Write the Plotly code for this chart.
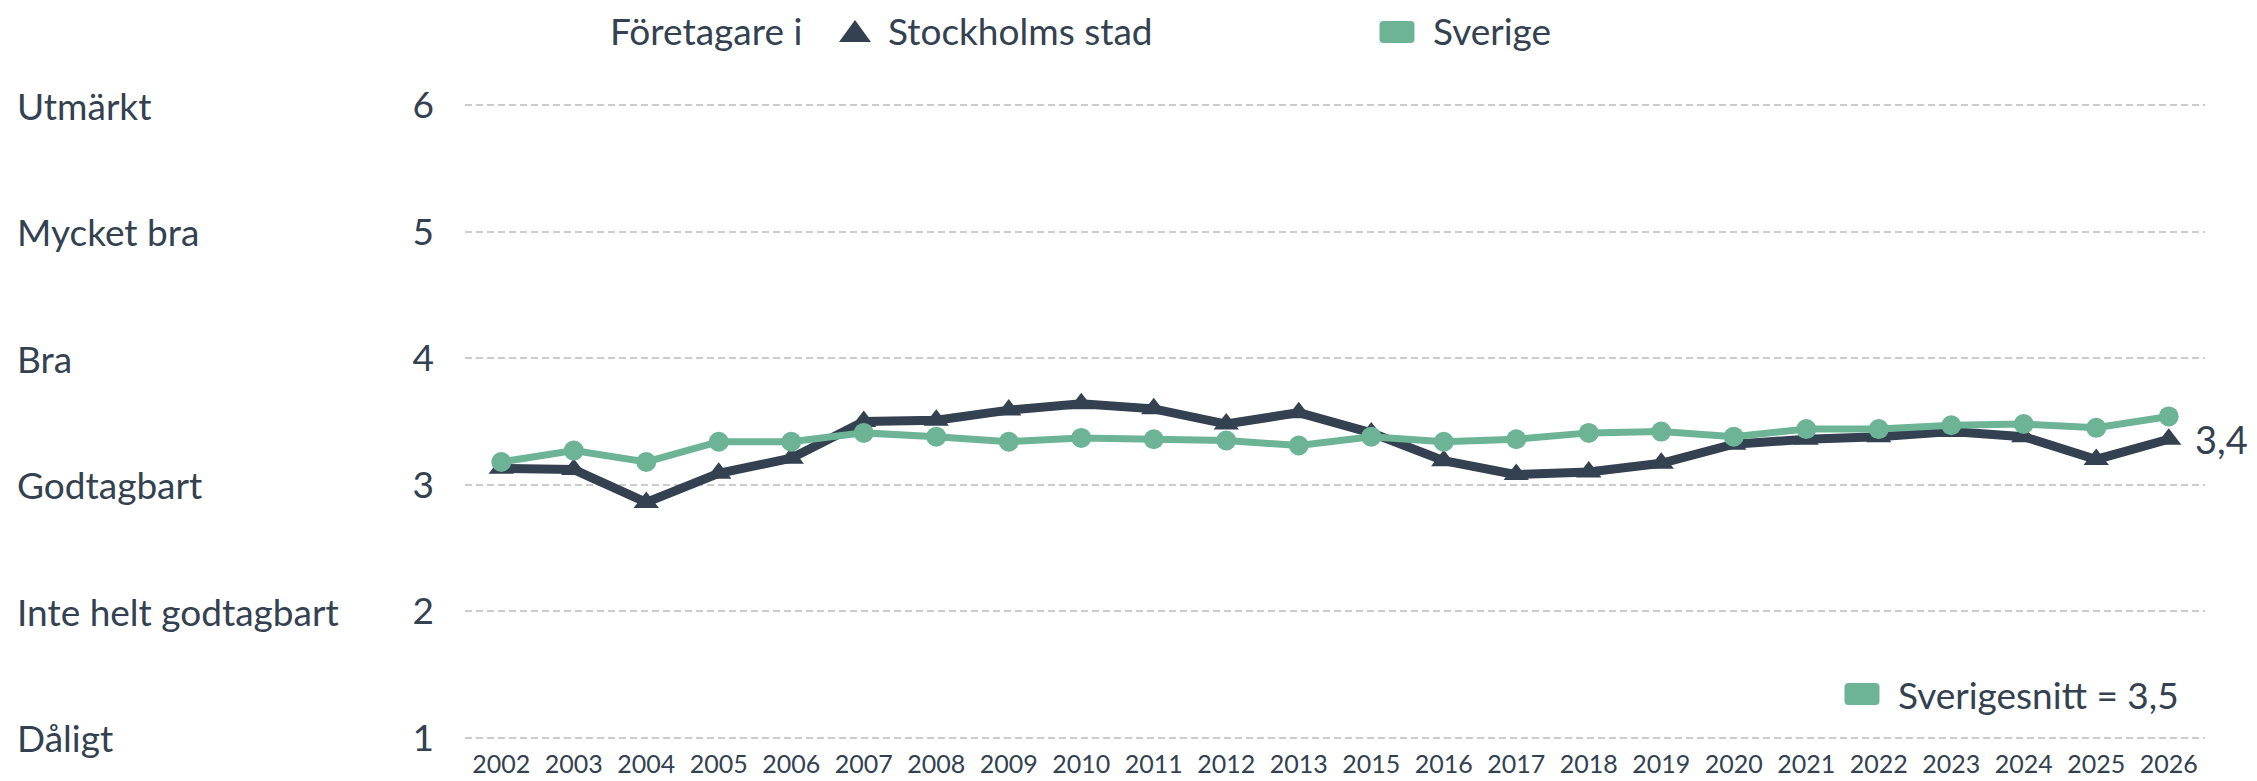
import plotly.graph_objects as go

years = ["2002", "2003", "2004", "2005", "2006", "2007", "2008", "2009", "2010", "2011", "2012", "2013",
         "2015", "2016", "2017", "2018", "2019", "2020", "2021", "2022", "2023", "2024", "2025", "2026"]
stockholm = [3.13, 3.12, 2.86, 3.09, 3.21, 3.50, 3.51, 3.59, 3.64, 3.60, 3.48, 3.57,
             3.41, 3.19, 3.08, 3.10, 3.17, 3.32, 3.36, 3.38, 3.42, 3.38, 3.20, 3.36]
sverige = [3.18, 3.27, 3.18, 3.34, 3.34, 3.41, 3.38, 3.34, 3.37, 3.36, 3.35, 3.31,
           3.38, 3.34, 3.36, 3.41, 3.42, 3.38, 3.44, 3.44, 3.47, 3.48, 3.45, 3.54]
scale_labels = ["Dåligt", "Inte helt godtagbart", "Godtagbart", "Bra", "Mycket bra", "Utmärkt"]
scale_values = [1, 2, 3, 4, 5, 6]
sverigesnitt = 3.5

DARK = "#334150"
GREEN = "#6db497"
FONT = "Lato"

W, H = 2257, 781
L, R, T, B = 465, 2205, 99, 744


def xp(x):
    return (x - L) / (R - L)


def yp(y):
    return (B - y) / (B - T)


fig = go.Figure()
fig.add_trace(go.Scatter(x=years, y=stockholm, mode="lines+markers", name="Stockholms stad",
                         line=dict(color=DARK, width=9),
                         marker=dict(symbol="triangle-up", size=22, color=DARK),
                         showlegend=False))
fig.add_trace(go.Scatter(x=years, y=sverige, mode="lines+markers", name="Sverige",
                         line=dict(color=GREEN, width=7),
                         marker=dict(symbol="circle", size=20, color=GREEN),
                         showlegend=False))

ann = []
for lab, v in zip(scale_labels, scale_values):
    ann.append(dict(x=xp(15), xref="paper", y=v, yref="y", text=lab, showarrow=False,
                    xanchor="left", yanchor="middle", font=dict(size=37, color=DARK, family=FONT)))

# last value label
ann.append(dict(x=len(years) - 1, xref="x", y=stockholm[-1], yref="y",
                text=f"{stockholm[-1]:.1f}".replace(".", ","),
                showarrow=False, xanchor="left", yanchor="middle", xshift=24,
                font=dict(size=38, color=DARK, family=FONT)))

# top legend
legend_font = dict(size=37, color=DARK, family=FONT)
ann.append(dict(x=xp(608), xref="paper", y=yp(31), yref="paper", text="Företagare i", showarrow=False,
                xanchor="left", yanchor="middle", font=legend_font))
ann.append(dict(x=xp(886), xref="paper", y=yp(31), yref="paper", text="Stockholms stad", showarrow=False,
                xanchor="left", yanchor="middle", font=legend_font))
ann.append(dict(x=xp(1431), xref="paper", y=yp(31), yref="paper", text="Sverige", showarrow=False,
                xanchor="left", yanchor="middle", font=legend_font))
ann.append(dict(x=xp(1896), xref="paper", y=yp(694), yref="paper",
                text=f"Sverigesnitt = {sverigesnitt:.1f}".replace(".", ","), showarrow=False,
                xanchor="left", yanchor="middle", font=legend_font))


def rrect(cx, cy, w, h, r):
    x0, x1, y0, y1 = -w / 2, w / 2, -h / 2, h / 2
    path = (f"M{x0 + r},{y0} L{x1 - r},{y0} Q{x1},{y0} {x1},{y0 + r} L{x1},{y1 - r} Q{x1},{y1} {x1 - r},{y1} "
            f"L{x0 + r},{y1} Q{x0},{y1} {x0},{y1 - r} L{x0},{y0 + r} Q{x0},{y0} {x0 + r},{y0} Z")
    return dict(type="path", xref="paper", yref="paper", xsizemode="pixel", ysizemode="pixel",
                xanchor=xp(cx), yanchor=yp(cy), path=path, fillcolor=GREEN, line=dict(width=0))


shapes = [
    rrect(1397, 32, 35, 22, 4),
    rrect(1862, 694, 35, 22, 4),
    dict(type="path", xref="paper", yref="paper", xsizemode="pixel", ysizemode="pixel",
         xanchor=xp(855), yanchor=yp(31), path="M-16,-11 L16,-11 L0,11 Z",
         fillcolor=DARK, line=dict(width=0)),
]

fig.update_layout(
    width=W, height=H,
    margin=dict(l=L, r=W - R, t=T, b=H - B),
    plot_bgcolor="white", paper_bgcolor="white",
    font=dict(family=FONT, color=DARK),
    showlegend=False,
    annotations=ann,
    shapes=shapes,
    xaxis=dict(type="category", range=[-0.5, len(years) - 0.5], showgrid=False, showline=False,
               zeroline=False, ticks="", tickfont=dict(size=25, color=DARK, family=FONT),
               ticklabelstandoff=3, automargin=False),
    yaxis=dict(range=[0.95, 6.05], tickvals=scale_values, showgrid=True, gridcolor="#cccccc",
               griddash="7px,4px", gridwidth=1.5, zeroline=False, showline=False, ticks="",
               tickfont=dict(size=37, color=DARK, family=FONT), ticklabelstandoff=30,
               automargin=False),
)

# page has a default 8px body margin, drop it so the chart sits at the window origin
fig.write_html("out.html", config={"displayModeBar": False},
               post_script="document.body.style.margin='0';")
